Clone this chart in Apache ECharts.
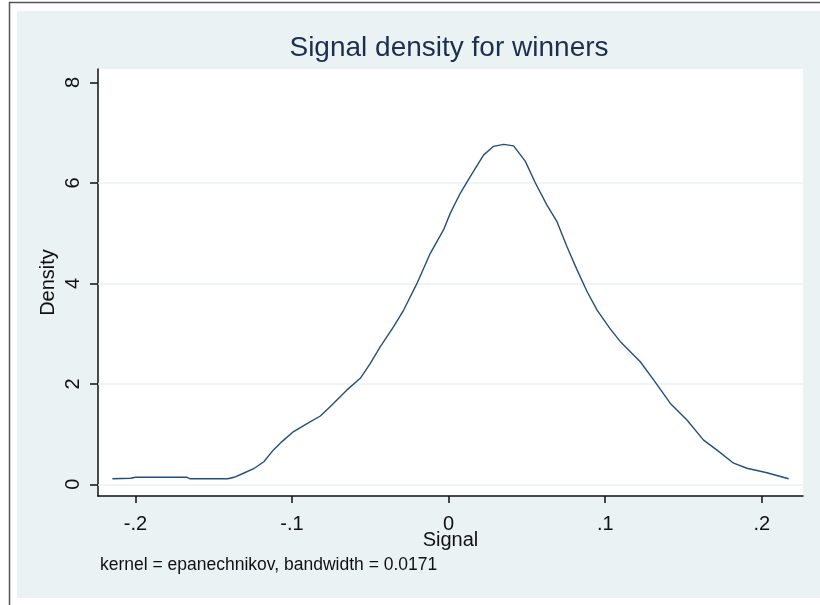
<!DOCTYPE html>
<html>
<head>
<meta charset="utf-8">
<script src="https://cdn.jsdelivr.net/npm/echarts@6/dist/echarts.min.js"></script>
<style>
html,body{margin:0;padding:0;background:#fff;}
#chart{width:820px;height:605px;}
</style>
</head>
<body>
<div id="chart"></div>
<script>
// Data
const signalX = [-0.2147,-0.203,-0.200,-0.167,-0.165,-0.141,-0.137,-0.131,-0.1245,-0.118,-0.112,-0.1064,-0.099,-0.0904,-0.0819,-0.0755,-0.0649,-0.0564,-0.050,-0.0436,-0.0351,-0.0287,-0.0202,-0.0117,-0.0032,0.0011,0.0075,0.0139,0.0224,0.0287,0.0351,0.0415,0.049,0.0554,0.0628,0.0692,0.0756,0.082,0.0884,0.0948,0.1033,0.1097,0.1224,0.1309,0.1416,0.1522,0.1628,0.1714,0.182,0.1905,0.2033,0.2171];
const densityY = [0.11,0.12,0.14,0.14,0.11,0.11,0.14,0.22,0.31,0.45,0.68,0.85,1.05,1.21,1.36,1.55,1.88,2.11,2.41,2.74,3.14,3.47,4.00,4.60,5.07,5.40,5.80,6.13,6.56,6.73,6.77,6.74,6.43,6.00,5.56,5.23,4.73,4.27,3.84,3.47,3.09,2.84,2.44,2.08,1.61,1.28,0.88,0.68,0.42,0.32,0.23,0.11];
const xTicks = [-0.2,-0.1,0,0.1,0.2];
const yTicks = [0,2,4,6,8];
const gridValues = [0,2,4,6];
const titleText = 'Signal density for winners';
const xTitle = 'Signal';
const yTitle = 'Density';
const noteText = 'kernel = epanechnikov, bandwidth = 0.0171';

const FONT = '"Liberation Sans", Arial, sans-serif';
const fmtX = v => {
  if (Math.abs(v) < 1e-9) return '0';
  return (v < 0 ? '-' : '') + String(Math.abs(v).toFixed(1)).replace(/^0/, '');
};

const chart = echarts.init(document.getElementById('chart'), null, {renderer:'canvas'});
chart.setOption({
  backgroundColor: '#ffffff',
  animation: false,
  graphic: [
    {type:'rect', z:-10, shape:{x:17, y:11, width:803, height:587}, style:{fill:'#eaf2f3'}},
    {type:'line', z:-5, shape:{x1:9, y1:2.5, x2:820, y2:2.5}, style:{stroke:'#555', lineWidth:1.5}},
    {type:'line', z:-5, shape:{x1:9.5, y1:2, x2:9.5, y2:605}, style:{stroke:'#555', lineWidth:1.5}},
    {type:'text', x:449, y:48, style:{text:titleText, fontFamily:FONT, fontSize:28, fill:'#1c2f4d', textAlign:'center', textVerticalAlign:'middle'}},
    {type:'text', x:100, y:565, style:{text:noteText, fontFamily:FONT, fontSize:17.5, fill:'#111', textAlign:'left', textVerticalAlign:'middle'}}
  ],
  grid: {left:98, right:17, top:69, bottom:109, show:true, backgroundColor:'#ffffff', borderWidth:0},
  xAxis: {
    type:'value', min:-0.2239, max:0.2263,
    axisLine:{show:true, onZero:false, lineStyle:{color:'#111', width:1.5}},
    axisTick:{show:true, length:7, customValues:xTicks, lineStyle:{color:'#111', width:1.5}},
    axisLabel:{customValues:xTicks, formatter:fmtX, fontFamily:FONT, fontSize:20, color:'#111', margin:18},
    splitLine:{show:false},
    name:xTitle, nameLocation:'middle', nameGap:34, nameMoveOverlap:false,
    nameTextStyle:{fontFamily:FONT, fontSize:20, color:'#111'}
  },
  yAxis: {
    type:'value', min:-0.233, max:8.27,
    axisLine:{show:true, onZero:false, lineStyle:{color:'#111', width:1.5}},
    axisTick:{show:true, length:8, customValues:yTicks, lineStyle:{color:'#111', width:1.5}},
    axisLabel:{customValues:yTicks, rotate:90, fontFamily:FONT, fontSize:20, color:'#111', margin:15},
    splitLine:{show:false},
    name:yTitle, nameLocation:'middle', nameGap:40, nameMoveOverlap:false,
    nameTextStyle:{fontFamily:FONT, fontSize:20, color:'#111'}
  },
  series: [{
    type:'line',
    data: signalX.map((x,i)=>[x, densityY[i]]),
    showSymbol:false,
    smooth:false,
    lineStyle:{color:'#22507a', width:1.4},
    markLine:{
      silent:true, symbol:'none', z:1,
      label:{show:false},
      lineStyle:{color:'#eaf2f3', width:1.5, type:'solid'},
      data: gridValues.map(v=>({yAxis:v}))
    },
    z:3
  }]
});
</script>
</body>
</html>
